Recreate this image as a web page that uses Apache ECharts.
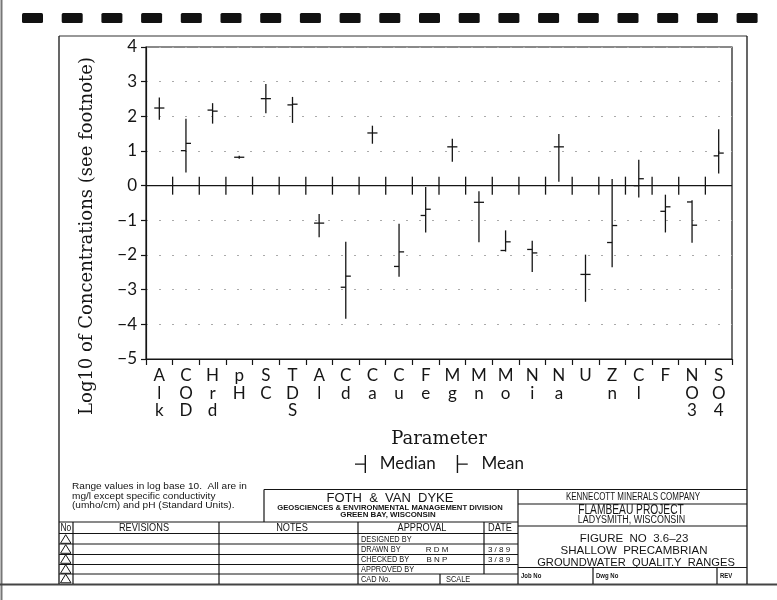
<!DOCTYPE html>
<html>
<head>
<meta charset="utf-8">
<script src="https://cdn.jsdelivr.net/npm/echarts@6/dist/echarts.min.js"></script>
<style>
html,body{margin:0;padding:0;background:#fff;}
#chart{width:777px;height:600px;}
</style>
</head>
<body>
<div id="chart"></div>
<script>
// ---- data (log10 of concentrations) ----
const categories = ['Alk','COD','Hrd','pH','SC','TDS','Al','Cd','Ca','Cu','Fe','Mg','Mn','Mo','Ni','Na','U','Zn','Cl','F','NO3','SO4'];
const minVals    = [1.90, 0.38, 1.79, 0.78, 2.09, 1.81, -1.49, -3.84, 1.21, -2.63, -1.35, 0.69, -1.63, -1.90, -2.49, 0.11, -3.35, -2.35, -0.34, -1.35, -1.65, 0.35];
const maxVals    = [2.54, 1.93, 2.38, 0.86, 2.93, 2.56, -0.82, -1.62, 1.73, -1.10, -0.04, 1.35, -0.16, -1.29, -1.59, 1.49, -1.99, 0.19, 0.75, -0.26, -0.42, 1.63];
const medianVals = [2.24, 1.01, 2.18, 0.82, 2.51, 2.33, -1.08, -2.93, 1.52, -2.33, -0.86, 1.12, -0.48, -1.87, -1.84, 1.12, -2.56, -1.64, 0.00, -0.74, -0.47, 0.86];
const meanVals   = [2.24, 1.22, 2.15, 0.82, 2.51, 2.35, -1.08, -2.61, 1.52, -1.91, -0.68, 1.12, -0.48, -1.62, -1.94, 1.12, -2.56, -1.15, 0.20, -0.61, -1.14, 0.94];
const yMin = -5, yMax = 4, yStep = 1;

const INK = '#151515';
const SANS = "'Lato','Liberation Sans',sans-serif";
const SERIF = "'DejaVu Serif','Liberation Serif',serif";
const LIB = "'Liberation Sans',sans-serif";

const rangeData = categories.map((c, i) => [i, minVals[i], maxVals[i], medianVals[i]]);
const meanData = categories.map((c, i) => [i, meanVals[i]]);
const boundaryData = categories.slice(1).map((c, i) => [i + 1]);

function tickLen(api) { return api.size([1, 0])[0] * 0.19; }

function renderRange(params, api) {
  const i = api.value(0);
  const lo = api.coord([i, api.value(1)]);
  const hi = api.coord([i, api.value(2)]);
  const md = api.coord([i, api.value(3)]);
  const t = tickLen(api);
  const st = { stroke: INK, lineWidth: 1.3 };
  return { type: 'group', children: [
    { type: 'line', shape: { x1: lo[0], y1: lo[1], x2: hi[0], y2: hi[1] }, style: st },
    { type: 'line', shape: { x1: md[0] - t, y1: md[1], x2: md[0], y2: md[1] }, style: st }
  ]};
}
function renderMean(params, api) {
  const i = api.value(0);
  const p = api.coord([i, api.value(1)]);
  const t = tickLen(api);
  return { type: 'line', shape: { x1: p[0], y1: p[1], x2: p[0] + t, y2: p[1] }, style: { stroke: INK, lineWidth: 1.3 } };
}
function renderZero(params, api) {
  const k = api.value(0);
  const c = api.coord([k, 0]);
  const w = api.size([1, 0])[0];
  const x = c[0] - w / 2;
  const children = [
    { type: 'line', shape: { x1: x, y1: c[1] - 9, x2: x, y2: c[1] + 9 }, style: { stroke: INK, lineWidth: 1.3 } }
  ];
  if (params.dataIndex === 0) {
    const cs = params.coordSys;
    children.push({ type: 'line', shape: { x1: cs.x, y1: c[1], x2: cs.x + cs.width, y2: c[1] }, style: { stroke: INK, lineWidth: 1.4 } });
  }
  return { type: 'group', children };
}

// ---- title block / page decoration ----
const g = [];
function L(x1, y1, x2, y2, w, col) {
  g.push({ type: 'line', silent: true, shape: { x1, y1, x2, y2 }, style: { stroke: col || INK, lineWidth: w || 1.2 } });
}
function T(text, x, y, size, align, sx, weight, font) {
  g.push({ type: 'text', silent: true, x, y, scaleX: sx || 1, style: {
    text, fill: INK, fontSize: size, fontFamily: font || LIB, fontWeight: weight || 'normal',
    textAlign: align || 'left', textVerticalAlign: 'middle' } });
}
// tractor-feed holes
for (let k = 0; k < 19; k++) {
  g.push({ type: 'rect', silent: true, shape: { x: 22 + k * 39.7, y: 13, width: 21, height: 10, r: 1.5 }, style: { fill: '#111' } });
}
// scan edges
L(1.5, 0, 1.5, 600, 2, '#777');
L(0, 584.5, 777, 584.5, 2, '#444');
// frame
L(59, 36, 747, 36, 1.2, '#333');
L(59, 36, 59, 584, 1.3);
L(747, 36, 747, 584, 1.3);
// FOTH box
L(264, 489.5, 747, 489.5);
L(264, 489.5, 264, 522);
// main table
L(59, 522, 518, 522);
L(59, 533.5, 518, 533.5);
[544, 554.5, 564.5, 574].forEach(y => L(59, y, 518, y, 1));
L(73, 522, 73, 584);
L(219, 522, 219, 584);
L(358, 522, 358, 584);
L(484, 522, 484, 574);
L(440, 574, 440, 584);
L(518, 489.5, 518, 584);
// right block
L(518, 504, 747, 504);
L(518, 526, 747, 526);
L(518, 567.5, 747, 567.5);
L(593, 567.5, 593, 584);
L(717, 567.5, 717, 584);
// triangles in No column
[539, 549, 559, 569, 578.5].forEach(cy => {
  g.push({ type: 'polygon', silent: true, shape: { points: [[60.5, cy + 4.3], [71, cy + 4.3], [65.7, cy - 4.3]] }, style: { fill: 'none', stroke: INK, lineWidth: 1 } });
});
// footnote
T('Range values in log base 10.  All are in', 72, 487, 9, 'left', 1.12);
T('mg/l except specific conductivity', 72, 496.5, 9, 'left', 1.12);
T('(umho/cm) and pH (Standard Units).', 72, 506, 9, 'left', 1.12);
// FOTH
T('FOTH  &  VAN  DYKE', 390, 498, 13, 'center');
T('GEOSCIENCES & ENVIRONMENTAL MANAGEMENT DIVISION', 390, 508.5, 6.6, 'center', 1.16, 'bold');
T('GREEN BAY, WISCONSIN', 388, 514.8, 6.6, 'center', 1.2, 'bold');
// headers
T('No', 60.5, 528, 10.5, 'left', 0.8);
T('REVISIONS', 144, 528, 11.5, 'center', 0.8);
T('NOTES', 292, 528, 11.5, 'center', 0.8);
T('APPROVAL', 422, 528, 11.5, 'center', 0.8);
T('DATE', 500, 528, 11.5, 'center', 0.8);
T('DESIGNED BY', 361, 539, 9.5, 'left', 0.78);
T('DRAWN BY', 361, 549.3, 9.5, 'left', 0.78);
T('R D M', 437, 549.3, 8, 'center');
T('3 / 8 9', 499, 549.3, 8, 'center');
T('CHECKED BY', 361, 559.5, 9.5, 'left', 0.78);
T('B N P', 437, 559.5, 8, 'center');
T('3 / 8 9', 499, 559.5, 8, 'center');
T('APPROVED BY', 361, 569.3, 9.5, 'left', 0.78);
T('CAD No.', 361, 579, 9.5, 'left', 0.78);
T('SCALE', 446, 579, 9.5, 'left', 0.78);
// right block text
T('KENNECOTT MINERALS COMPANY', 633, 497, 10.5, 'center', 0.76);
T('FLAMBEAU PROJECT', 631, 510, 14, 'center', 0.73);
T('LADYSMITH, WISCONSIN', 631.5, 520.5, 10, 'center', 0.89);
T('FIGURE  NO  3.6–23', 634, 539, 11.5, 'center');
T('SHALLOW  PRECAMBRIAN', 634, 551, 11.5, 'center');
T('GROUNDWATER  QUALIT.Y  RANGES', 636, 562.5, 11.5, 'center', 0.97);
T('Job No', 521, 576, 7.5, 'left', 0.8, 'bold');
T('Dwg No', 596, 576, 7.5, 'left', 0.8, 'bold');
T('REV', 720, 576, 7.5, 'left', 0.8, 'bold');

const chart = echarts.init(document.getElementById('chart'), null, { renderer: 'canvas' });
chart.setOption({
  animation: false,
  backgroundColor: '#fff',
  grid: { left: 146, top: 47, width: 586, height: 312, show: true, borderColor: INK, borderWidth: 1.2, backgroundColor: 'transparent' },
  legend: {
    left: 350, top: 450, itemWidth: 11, itemHeight: 18, itemGap: 21,
    textStyle: { fontSize: 17, color: INK, fontFamily: SANS },
    formatter: n => '  ' + n,
    data: [
      { name: 'Median', icon: 'path://M0,8.4L9.6,8.4L9.6,9.8L0,9.8Z M9.6,0L11,0L11,18L9.6,18Z' },
      { name: 'Mean', icon: 'path://M0,0L1.4,0L1.4,18L0,18Z M1.4,8.4L11,8.4L11,9.8L1.4,9.8Z' }
    ]
  },
  xAxis: {
    type: 'category', data: categories, boundaryGap: true,
    name: 'Parameter', nameLocation: 'middle', nameGap: 71,
    nameTextStyle: { fontSize: 18, fontFamily: SERIF, color: INK },
    axisLine: { onZero: false, lineStyle: { color: INK, width: 1.2 } },
    axisTick: { show: true, length: 6, lineStyle: { color: INK, width: 1.2 } },
    axisLabel: { interval: 0, margin: 8, fontSize: 17, lineHeight: 17.6, color: INK, fontFamily: SANS,
      formatter: v => v.split('').join('\n') },
    splitLine: { show: false }
  },
  yAxis: {
    type: 'value', min: yMin, max: yMax, interval: yStep,
    name: 'Log10 of Concentrations (see footnote)', nameLocation: 'middle', nameGap: 50, nameRotate: 90,
    nameTextStyle: { fontSize: 18, fontFamily: SERIF, color: INK, padding: [0, 66, 0, 0] },
    axisLine: { show: true, lineStyle: { color: INK, width: 1.2 } },
    axisTick: { show: true, length: 5, lineStyle: { color: INK, width: 1.2 } },
    axisLabel: { margin: 9, fontSize: 17, color: INK, fontFamily: SANS,
      formatter: v => String(v).replace('-', '\u2212') },
    splitLine: { show: true, lineStyle: { color: '#aaa', width: 1, type: [2, 11] } }
  },
  series: [
    { name: 'zero', type: 'custom', renderItem: renderZero, data: boundaryData, encode: { x: 0 }, silent: true, z: 3 },
    { name: 'Median', type: 'custom', renderItem: renderRange, data: rangeData, encode: { x: 0, y: [1, 2, 3] }, itemStyle: { color: INK }, z: 4 },
    { name: 'Mean', type: 'custom', renderItem: renderMean, data: meanData, encode: { x: 0, y: 1 }, itemStyle: { color: INK }, z: 4 }
  ],
  graphic: { elements: g }
});
</script>
</body>
</html>
